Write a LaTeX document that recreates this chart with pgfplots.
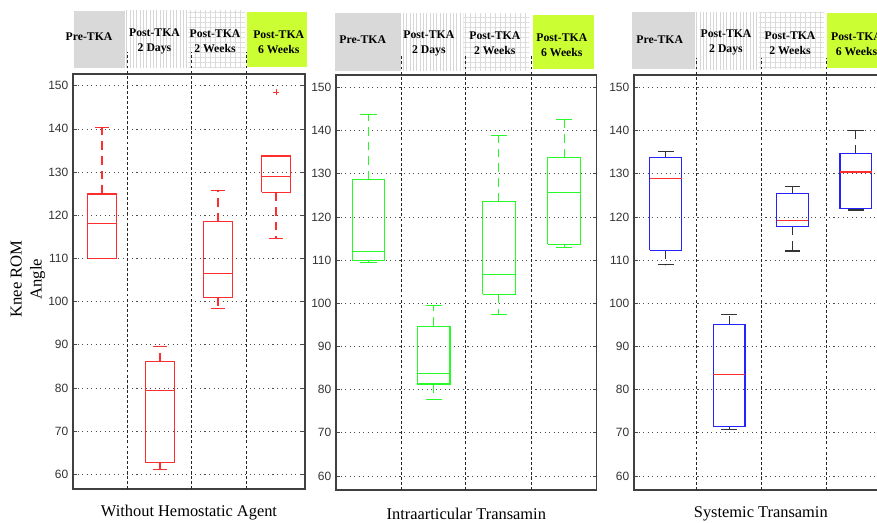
\documentclass[border=0pt]{standalone}
\usepackage{pgfplots}
\pgfplotsset{compat=1.18}
\usetikzlibrary{patterns.meta}
\usepackage{fontspec}
\setmainfont{Liberation Serif}
\newfontfamily\sansf{Liberation Sans}
\definecolor{hdrgray}{RGB}{217,217,217}
\definecolor{hdrgreen}{RGB}{204,255,51}
\definecolor{mygreen}{RGB}{40,250,40}
\definecolor{myred}{RGB}{255,45,45}
\definecolor{myblue}{RGB}{35,35,255}

\tikzset{divider/.style={black!85, line width=0.6pt, dash pattern=on 2.2pt off 1.6pt},
         whisk/.style={dash pattern=on 6.5pt off 4.5pt}}
\pgfplotsset{
  panel/.style={
    scale only axis, height=311.25pt,
    xmin=0.5, xmax=4.5, xtick=\empty,
    ytick={60,70,80,90,100,110,120,130,140,150},
    ymajorgrids,
    major grid style={black!70, line width=0.5pt, dash pattern=on 0.8pt off 2.6pt},
    axis line style={black!75, line width=0.9pt},
    tick align=inside, major tick length=3pt,
    tick style={black!70, line width=0.5pt},
    yticklabel style={font=\sansf\fontsize{9}{10}\selectfont, text=black!80},
    /pgf/number format/assume math mode=true,
    clip=false, unbounded coords=jump,
    xlabel style={font=\fontsize{12.3}{14}\selectfont, at={(axis description cs:0.5,0)}, anchor=center, yshift=-17.6pt},
    every axis plot/.append style={line width=0.85pt, line join=miter, mark=none},
  },
}

\begin{document}
\begin{tikzpicture}
\useasboundingbox (0,0) rectangle (657.75pt,391.5pt);
\clip (0,0) rectangle (657.75pt,391.5pt);

% header panels (pixel coordinates)
\begin{scope}[x=0.75pt, y=-0.75pt, shift={(0pt,391.5pt)}]
  \tikzset{hdr/.style={align=center, font=\fontsize{8.8}{11.25}\selectfont\bfseries, inner sep=0pt}}
  % panel 1
  \fill[hdrgray] (74,11) rectangle (125,68);
  \fill[pattern={Lines[angle=90, distance=2.5pt, line width=0.5pt]}, pattern color=black!16] (125,11) rectangle (188.3,68);
  \fill[pattern={Hatch[angle=0, distance=3.75pt, line width=0.45pt]}, pattern color=black!14] (188.3,11) rectangle (245,68);
  \fill[hdrgreen] (246.7,11.7) rectangle (307,66.7);
  \node[hdr] at (89,37) {Pre-TKA};
  \node[hdr] at (154.5,41.5) {Post-TKA\\2 Days};
  \node[hdr] at (215,41.5) {Post-TKA\\2 Weeks};
  \node[hdr] at (278.7,42.5) {Post-TKA\\6 Weeks};
  % panel 2
  \fill[hdrgray] (335,13.3) rectangle (400,70.7);
  \fill[pattern={Lines[angle=90, distance=2.5pt, line width=0.5pt]}, pattern color=black!16] (400,13.3) rectangle (463.3,70.7);
  \fill[pattern={Hatch[angle=0, distance=3.75pt, line width=0.45pt]}, pattern color=black!14] (463.3,13.3) rectangle (529,70.7);
  \fill[hdrgreen] (532.7,15) rectangle (594,69);
  \node[hdr] at (362.7,39.7) {Pre-TKA};
  \node[hdr] at (428.8,43.3) {Post-TKA\\2 Days};
  \node[hdr] at (494.8,43.5) {Post-TKA\\2 Weeks};
  \node[hdr] at (561.8,44.8) {Post-TKA\\6 Weeks};
  % panel 3
  \fill[hdrgray] (632.3,12.3) rectangle (695,69.3);
  \fill[pattern={Lines[angle=90, distance=2.5pt, line width=0.5pt]}, pattern color=black!16] (695,12.3) rectangle (759,69.3);
  \fill[pattern={Hatch[angle=0, distance=3.75pt, line width=0.45pt]}, pattern color=black!14] (759,12.3) rectangle (824,69.3);
  \fill[hdrgreen] (827.3,13.3) rectangle (895,67.7);
  \node[hdr] at (659.7,40) {Pre-TKA};
  \node[hdr] at (726,42.5) {Post-TKA\\2 Days};
  \node[hdr] at (790,43) {Post-TKA\\2 Weeks};
  \node[hdr] at (856.5,44) {Post-TKA\\6 Weeks};
\end{scope}

% ---------- Panel 1: Without Hemostatic Agent ----------
% box: lower whisker, lower quartile, median, upper quartile, upper whisker
% 1: 109.9 110.0 118.0 124.9 140.4 | 2: 61.2 62.7 79.5 86.1 89.6
% 3: 98.4 100.9 106.5 118.5 125.8  | 4: 114.7 125.3 128.9 133.7 133.7, outlier 148.5
\begin{axis}[panel, at={(54.75pt,24.75pt)}, anchor=south west, width=174pt,
  ymin=56.6, ymax=152.7,
  xlabel={Without Hemostatic Agent},
  ylabel={Knee ROM\\Angle},
  ylabel style={align=center, font=\fontsize{12.5}{15}\selectfont, at={(axis description cs:-0.194,0.506)}, anchor=center},
]
\draw[divider] (axis cs:1.443,56.6) -- (axis cs:1.443,157.8);
\draw[divider] (axis cs:2.534,56.6) -- (axis cs:2.534,157.8);
\draw[divider] (axis cs:3.495,56.6) -- (axis cs:3.495,157.8);
% whiskers
\addplot[myred, whisk] coordinates {
 (1,124.9)(1,140.4)(1,nan)(1,110.0)(1,109.9)(1,nan)
 (2,86.1)(2,89.6)(2,nan)(2,62.7)(2,61.2)(2,nan)
 (3,118.5)(3,125.8)(3,nan)(3,100.9)(3,98.4)(3,nan)
 (4,125.3)(4,114.7)};
% caps
\addplot[myred] coordinates {
 (0.875,109.9)(1.125,109.9)(1,nan)(0.875,140.4)(1.125,140.4)(1,nan)
 (1.875,61.2)(2.125,61.2)(2,nan)(1.875,89.6)(2.125,89.6)(2,nan)
 (2.875,98.4)(3.125,98.4)(3,nan)(2.875,125.8)(3.125,125.8)(3,nan)
 (3.875,114.7)(4.125,114.7)(4,nan)(3.875,133.7)(4.125,133.7)};
% boxes and medians
\addplot[myred] coordinates {
 (0.75,110.0)(1.25,110.0)(1.25,124.9)(0.75,124.9)(0.75,110.0)(1,nan)(0.75,118.0)(1.25,118.0)(1,nan)
 (1.75,62.7)(2.25,62.7)(2.25,86.1)(1.75,86.1)(1.75,62.7)(2,nan)(1.75,79.5)(2.25,79.5)(2,nan)
 (2.75,100.9)(3.25,100.9)(3.25,118.5)(2.75,118.5)(2.75,100.9)(3,nan)(2.75,106.5)(3.25,106.5)(3,nan)
 (3.75,125.3)(4.25,125.3)(4.25,133.7)(3.75,133.7)(3.75,125.3)(4,nan)(3.75,128.9)(4.25,128.9)};
% outlier
\addplot[myred, only marks, mark=+, mark size=2.4pt, mark options={solid, line width=0.7pt}] coordinates {(4,148.5)};
\end{axis}

% ---------- Panel 2: Intraarticular Transamin ----------
% 1: 109.5 109.9 111.9 128.6 143.8 | 2: 77.8 81.3 83.7 94.7 99.4
% 3: 97.4 102.1 106.6 123.6 138.8  | 4: 113.0 113.7 125.7 133.7 142.5
\begin{axis}[panel, at={(252pt,24pt)}, anchor=south west, width=195.5pt,
  ymin=56.76, ymax=152.85,
  xlabel={Intraarticular Transamin},
]
\draw[divider] (axis cs:1.508,56.76) -- (axis cs:1.508,157.5);
\draw[divider] (axis cs:2.479,56.76) -- (axis cs:2.479,157.5);
\draw[divider] (axis cs:3.492,56.76) -- (axis cs:3.492,157.5);
\addplot[mygreen, whisk] coordinates {
 (1,128.6)(1,143.8)(1,nan)(1,109.9)(1,109.5)(1,nan)
 (2,94.7)(2,99.4)(2,nan)(2,81.3)(2,77.8)(2,nan)
 (3,123.6)(3,138.8)(3,nan)(3,102.1)(3,97.4)(3,nan)
 (4,133.7)(4,142.5)(4,nan)(4,113.7)(4,113.0)};
\addplot[mygreen] coordinates {
 (0.875,109.5)(1.125,109.5)(1,nan)(0.875,143.8)(1.125,143.8)(1,nan)
 (1.875,77.8)(2.125,77.8)(2,nan)(1.875,99.4)(2.125,99.4)(2,nan)
 (2.875,97.4)(3.125,97.4)(3,nan)(2.875,138.8)(3.125,138.8)(3,nan)
 (3.875,113.0)(4.125,113.0)(4,nan)(3.875,142.5)(4.125,142.5)};
\addplot[mygreen] coordinates {
 (0.75,109.9)(1.25,109.9)(1.25,128.6)(0.75,128.6)(0.75,109.9)(1,nan)(0.75,111.9)(1.25,111.9)(1,nan)
 (1.75,81.3)(2.25,81.3)(2.25,94.7)(1.75,94.7)(1.75,81.3)(2,nan)(1.75,83.7)(2.25,83.7)(2,nan)
 (2.75,102.1)(3.25,102.1)(3.25,123.6)(2.75,123.6)(2.75,102.1)(3,nan)(2.75,106.6)(3.25,106.6)(3,nan)
 (3.75,113.7)(4.25,113.7)(4.25,133.7)(3.75,133.7)(3.75,113.7)(4,nan)(3.75,125.7)(4.25,125.7)};
\end{axis}

% ---------- Panel 3: Systemic Transamin ----------
% 1: 108.9 112.3 128.8 133.7 135.2 | 2: 70.8 71.5 83.5 95.1 97.4
% 3: 112.1 117.7 119.1 125.5 127.1 | 4: 121.6 121.9 130.4 134.6 140.0
\begin{axis}[panel, at={(475.5pt,24pt)}, anchor=south west, width=190.2pt,
  ymin=56.76, ymax=152.85,
  xlabel={Systemic Transamin},
]
\draw[divider] (axis cs:1.489,56.76) -- (axis cs:1.489,156.7);
\draw[divider] (axis cs:2.503,56.76) -- (axis cs:2.503,156.7);
\draw[divider] (axis cs:3.539,56.76) -- (axis cs:3.539,156.7);
\addplot[black!80, whisk] coordinates {
 (1,133.7)(1,135.2)(1,nan)(1,112.3)(1,108.9)(1,nan)
 (2,95.1)(2,97.4)(2,nan)(2,71.5)(2,70.8)(2,nan)
 (3,125.5)(3,127.1)(3,nan)(3,117.7)(3,112.1)(3,nan)
 (4,134.6)(4,140.0)(4,nan)(4,121.9)(4,121.6)};
\addplot[black!80] coordinates {
 (0.875,108.9)(1.125,108.9)(1,nan)(0.875,135.2)(1.125,135.2)(1,nan)
 (1.875,70.8)(2.125,70.8)(2,nan)(1.875,97.4)(2.125,97.4)(2,nan)
 (2.875,112.1)(3.125,112.1)(3,nan)(2.875,127.1)(3.125,127.1)(3,nan)
 (3.875,121.6)(4.125,121.6)(4,nan)(3.875,140.0)(4.125,140.0)};
\addplot[myblue] coordinates {
 (0.75,112.3)(1.25,112.3)(1.25,133.7)(0.75,133.7)(0.75,112.3)(1,nan)
 (1.75,71.5)(2.25,71.5)(2.25,95.1)(1.75,95.1)(1.75,71.5)(2,nan)
 (2.75,117.7)(3.25,117.7)(3.25,125.5)(2.75,125.5)(2.75,117.7)(3,nan)
 (3.75,121.9)(4.25,121.9)(4.25,134.6)(3.75,134.6)(3.75,121.9)};
\addplot[myred] coordinates {
 (0.75,128.8)(1.25,128.8)(1,nan)
 (1.75,83.5)(2.25,83.5)(2,nan)
 (2.75,119.1)(3.25,119.1)(3,nan)
 (3.75,130.4)(4.25,130.4)};
\end{axis}
\end{tikzpicture}
\end{document}
